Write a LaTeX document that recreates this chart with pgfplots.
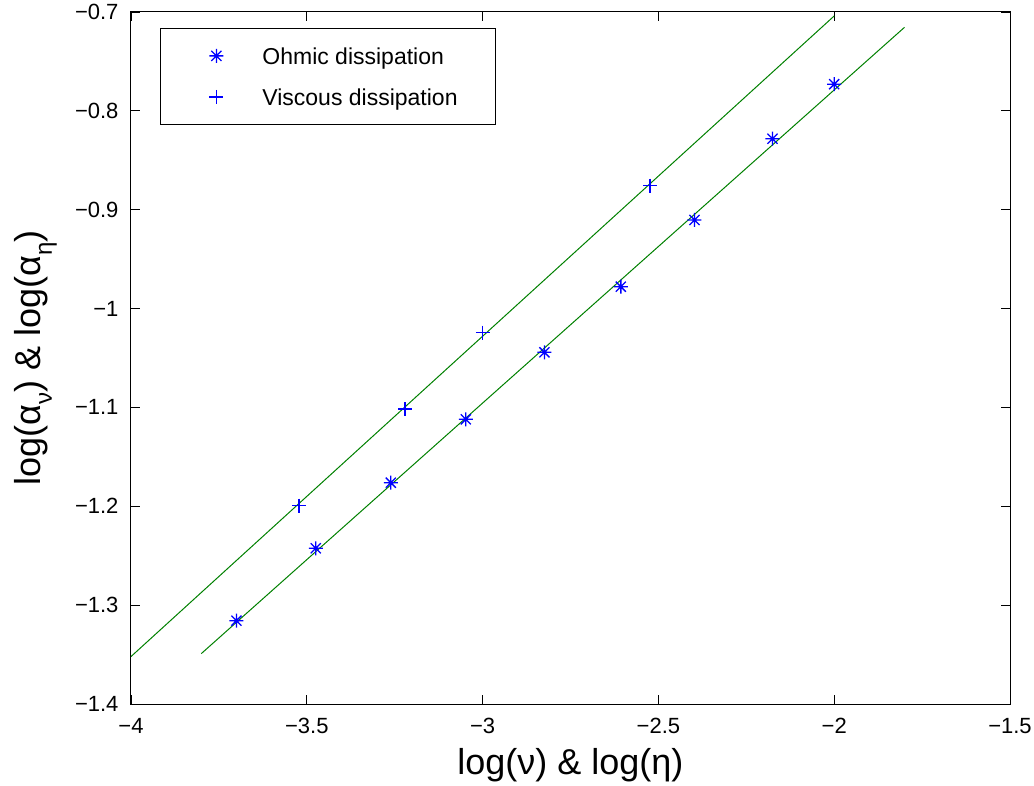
\documentclass[border=0pt]{standalone}
\usepackage{fontspec}
\setmainfont{Liberation Sans}
\usepackage{pgfplots}
\pgfplotsset{compat=1.18}
\definecolor{mgreen}{RGB}{0,128,0}
\definecolor{mblue}{RGB}{0,0,255}

% matlab style '*' marker: plus and cross together
\pgfdeclareplotmark{mstar}{%
  \pgfpathmoveto{\pgfqpoint{-\pgfplotmarksize}{0pt}}%
  \pgfpathlineto{\pgfqpoint{\pgfplotmarksize}{0pt}}%
  \pgfpathmoveto{\pgfqpoint{0pt}{-\pgfplotmarksize}}%
  \pgfpathlineto{\pgfqpoint{0pt}{\pgfplotmarksize}}%
  \pgfpathmoveto{\pgfqpoint{-0.72\pgfplotmarksize}{-0.72\pgfplotmarksize}}%
  \pgfpathlineto{\pgfqpoint{0.72\pgfplotmarksize}{0.72\pgfplotmarksize}}%
  \pgfpathmoveto{\pgfqpoint{-0.72\pgfplotmarksize}{0.72\pgfplotmarksize}}%
  \pgfpathlineto{\pgfqpoint{0.72\pgfplotmarksize}{-0.72\pgfplotmarksize}}%
  \pgfusepathqstroke}

\begin{document}
\begin{tikzpicture}
\path[use as bounding box] (-131pt,-81pt) rectangle (903pt,704pt);
\begin{axis}[
  scale only axis, width=879pt, height=692pt,
  xmin=-4, xmax=-1.5, ymin=-1.4, ymax=-0.7,
  xtick={-4,-3.5,-3,-2.5,-2,-1.5},
  xticklabels={−4,−3.5,−3,−2.5,−2,−1.5},
  ytick={-1.4,-1.3,-1.2,-1.1,-1,-0.9,-0.8,-0.7},
  yticklabels={−1.4,−1.3,−1.2,−1.1,−1,−0.9,−0.8,−0.7},
  tick align=inside, major tick length=9pt,
  tick style={black, line width=0.8pt},
  axis line style={line width=1pt},
  ticklabel style={font=\fontsize{22}{26}\selectfont},
  xticklabel style={yshift=-11pt},
  yticklabel style={xshift=-9pt},
  xlabel={log(ν) \& log(η)},
  ylabel={log(α\raisebox{-0.3em}{\fontsize{24}{26}\selectfont ν}) \& log(α\raisebox{-0.3em}{\fontsize{24}{26}\selectfont η})},
  label style={font=\fontsize{36}{40}\selectfont},
  xlabel style={at={(axis description cs:0.5,-0.1012)}, anchor=base},
  ylabel style={at={(axis description cs:-0.1024,0.5)}, anchor=base, rotate=0},
  legend style={at={(axis description cs:0.033,0.9769)}, anchor=north west,
    draw=black, line width=0.8pt, font=\fontsize{23}{27}\selectfont,
    inner xsep=49pt, inner ysep=17pt, row sep=20pt, column sep=39pt,
    nodes={inner sep=0pt, text height=19pt, text depth=2pt}},
  legend cell align=left,
  legend image code/.code={\draw[mark repeat=2,mark phase=2] plot coordinates {(0pt,0pt) (20pt,0pt) (40pt,0pt)};},
]
% fitted lines
\addplot[mgreen, line width=1pt, forget plot] coordinates {(-3.8,-1.349) (-1.8,-0.7155)};
\addplot[mgreen, line width=1pt, forget plot] coordinates {(-4,-1.352) (-2,-0.704)};

\addplot[only marks, mark=mstar, mark size=7pt, mblue, line width=1.3pt] coordinates {
  (-3.700,-1.3157) (-3.4745,-1.2425) (-3.2612,-1.1761) (-3.0478,-1.1120)
  (-2.8242,-1.0442) (-2.6068,-0.9779) (-2.3974,-0.9104) (-2.1756,-0.8282)
  (-2.000,-0.7730)};
\addlegendentry{Ohmic dissipation}
\addplot[only marks, mark=+, mark size=7pt, mblue, line width=1.3pt] coordinates {
  (-3.522,-1.1994) (-3.2205,-1.1016) (-2.9994,-1.0244) (-2.5235,-0.8757)};
\addlegendentry{Viscous dissipation\kern-11pt}
\end{axis}
\end{tikzpicture}
\end{document}
